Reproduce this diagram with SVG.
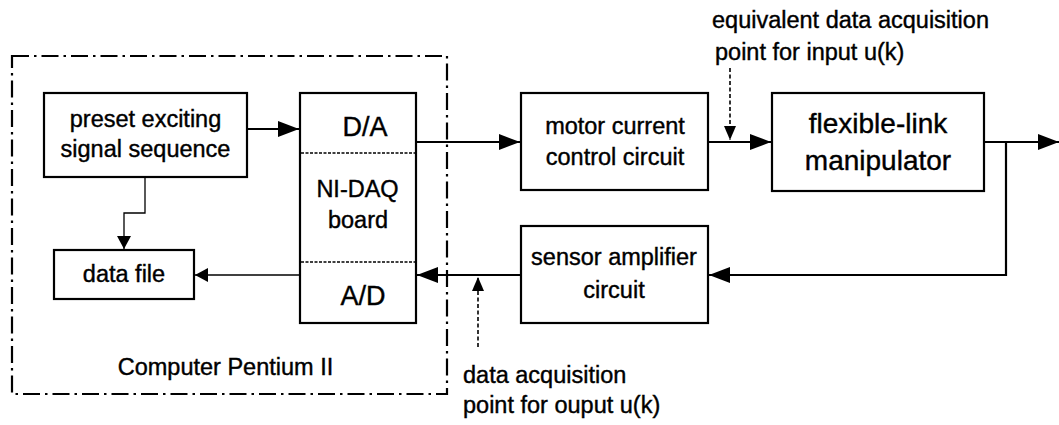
<svg xmlns="http://www.w3.org/2000/svg" width="1059" height="425" viewBox="0 0 1059 425">
<style>
.box{fill:#fff;stroke:#000;stroke-width:2.2}
.t{font-family:"Liberation Sans",Arial,sans-serif;font-size:23.5px;fill:#000;stroke:#000;stroke-width:0.4;text-anchor:middle}
.big{font-size:28px}
.da{font-size:27px}
.lbl{text-anchor:start}
.w{fill:none;stroke:#000;stroke-width:2.2}
.thin{fill:none;stroke:#000;stroke-width:1.3}
.dash{fill:none;stroke:#000;stroke-width:1.6;stroke-dasharray:4 2.5}
.div{fill:none;stroke:#000;stroke-width:1.6;stroke-dasharray:3 1.5}
.dd{fill:none;stroke:#000;stroke-width:2.2;stroke-dasharray:17 5 2.5 5}
</style>
<defs>
<marker id="ab" markerUnits="userSpaceOnUse" markerWidth="24" markerHeight="18" refX="21" refY="8" orient="auto"><path d="M0,0 L21,8 L0,16 Z" fill="#000"/></marker>
<marker id="as" markerUnits="userSpaceOnUse" markerWidth="16" markerHeight="16" refX="13" refY="7" orient="auto"><path d="M0,0 L13,7 L0,14 Z" fill="#000"/></marker>
<marker id="ad" markerUnits="userSpaceOnUse" markerWidth="16" markerHeight="14" refX="14" refY="6" orient="auto"><path d="M0,0 L14,6 L0,12 Z" fill="#000"/></marker>
</defs>
<rect width="1059" height="425" fill="#fff"/>
<g id="computer">
<rect x="12" y="56" width="435" height="338" class="dd"/>
<text class="t" x="225.5" y="375">Computer Pentium II</text>
</g>
<g id="preset">
<rect class="box" x="44" y="93" width="203" height="84"/>
<text class="t" x="145.5" y="127">preset exciting</text>
<text class="t" x="145.5" y="157">signal sequence</text>
</g>
<g id="datafile">
<rect class="box" x="54" y="250" width="140" height="49"/>
<text class="t" x="124" y="282">data file</text>
</g>
<g id="nidaq">
<rect class="box" x="300" y="93" width="116" height="230"/>
<line class="div" x1="301" y1="153" x2="415" y2="153"/>
<line class="div" x1="301" y1="262" x2="415" y2="262"/>
<text class="t da" x="365" y="136">D/A</text>
<text class="t" x="357.5" y="197">NI-DAQ</text>
<text class="t" x="358" y="228">board</text>
<text class="t da" x="363" y="305">A/D</text>
</g>
<g id="motor">
<rect class="box" x="521" y="93" width="187" height="97"/>
<text class="t" x="615" y="134">motor current</text>
<text class="t" x="615" y="165">control circuit</text>
</g>
<g id="flexible">
<rect class="box" x="772" y="93" width="212" height="98"/>
<text class="t big" x="878" y="133">flexible-link</text>
<text class="t big" x="878" y="170">manipulator</text>
</g>
<g id="sensor">
<rect class="box" x="521" y="226" width="187" height="97"/>
<text class="t" x="614" y="265">sensor amplifier</text>
<text class="t" x="614" y="298">circuit</text>
</g>
<g id="labels">
<text class="t lbl" x="712" y="28">equivalent data acquisition</text>
<text class="t lbl" x="715" y="60">point for input u(k)</text>
<text class="t lbl" x="463" y="383">data acquisition</text>
<text class="t lbl" x="463" y="413">point for ouput u(k)</text>
</g>
<g id="connectors">
<line class="w" x1="247" y1="129" x2="299" y2="129" marker-end="url(#ab)"/>
<polyline class="thin" points="145,177 145,213 124,213 124,249" marker-end="url(#as)"/>
<line class="thin" x1="300" y1="275" x2="195" y2="275" marker-end="url(#as)"/>
<line class="w" x1="416" y1="142" x2="520" y2="142" marker-end="url(#ab)"/>
<line class="w" x1="708" y1="142" x2="771" y2="142" marker-end="url(#ab)"/>
<line class="w" x1="984" y1="142" x2="1059" y2="142" marker-end="url(#ab)"/>
<polyline class="w" points="1006,142 1006,275 709,275" marker-end="url(#ab)"/>
<line class="w" x1="521" y1="275" x2="417" y2="275" marker-end="url(#ab)"/>
<line class="dash" x1="730" y1="68" x2="730" y2="140" marker-end="url(#ad)"/>
<line class="dash" x1="478" y1="347" x2="478" y2="277" marker-end="url(#ad)"/>
</g>
</svg>
